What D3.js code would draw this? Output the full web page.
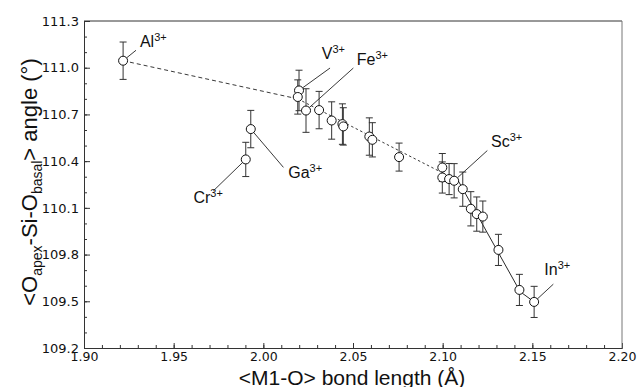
<!DOCTYPE html>
<html>
<head>
<meta charset="utf-8">
<script src="https://cdn.jsdelivr.net/npm/d3@7"></script>
<style>
    body { margin: 0; background: #fff; }
    svg { display: block; }
</style>
</head>
<body>
<svg id="grafica"></svg>
<script>
/**
 * Datos
 */
const bondLength = [1.9218, 2.0199, 2.0192, 2.0238, 2.0311, 2.0381, 2.0441, 2.0446,
    2.0591, 2.0608, 2.0757, 2.0998, 2.0998, 2.1036, 2.1064, 2.1112, 2.1157, 2.1190,
    2.1224, 2.1311, 2.1428, 2.1510, 1.9930, 1.9902];
const angle = [111.045, 110.854, 110.812, 110.725, 110.728, 110.661, 110.638, 110.623,
    110.558, 110.537, 110.426, 110.359, 110.295, 110.285, 110.274, 110.220, 110.094, 110.060,
    110.044, 109.830, 109.573, 109.496, 110.606, 110.411];
const angleErr = [0.12, 0.13, 0.11, 0.14, 0.12, 0.12, 0.13, 0.12,
    0.12, 0.11, 0.09, 0.09, 0.10, 0.10, 0.11, 0.11, 0.11, 0.11,
    0.10, 0.10, 0.10, 0.10, 0.12, 0.11];

// lineas de tendencia
const dashedX = [1.9218, 2.0192];
const dashedY = [111.045, 110.800];
const dottedX = [2.0192, 2.0985];
const dottedY = [110.800, 110.333];
const solidX = [2.1084, 2.1432, 2.1510];
const solidY = [110.280, 109.562, 109.496];

// etiquetas de iones: punto, fin de la linea guia, posicion del texto
const ionNames = ['Al', 'V', 'Fe', 'Ga', 'Cr', 'Sc', 'In'];
const ionPoint = [0, 1, 3, 22, 23, 14, 21];
const leaderX = [1.9290, 2.0372, 2.0502, 2.0112, 1.9721, 2.1249, 2.1617];
const leaderY = [111.112, 110.998, 110.998, 110.360, 110.209, 110.468, 109.610];
const labelX = [1.9312, 2.0326, 2.0521, 2.0139, 1.9610, 2.1270, 2.1567];
const labelY = [111.135, 111.056, 111.019, 110.290, 110.132, 110.494, 109.670];

const xTicks = [1.90, 1.95, 2.00, 2.05, 2.10, 2.15, 2.20];
const yTicks = [109.2, 109.5, 109.8, 110.1, 110.4, 110.7, 111.0, 111.3];

const ancho = 639, alto = 387;
const margen = { left: 84, right: 17, top: 21, bottom: 39 };

const svg = d3.select('#grafica')
    .attr('width', ancho)
    .attr('height', alto)
    .style('background-color', 'white');

const x = d3.scaleLinear().domain([1.90, 2.20]).range([margen.left, ancho - margen.right]);
const y = d3.scaleLinear().domain([109.2, 111.3]).range([alto - margen.bottom, margen.top]);

const colorEje = '#333';
const fuenteTicks = '"DejaVu Sans", sans-serif';
const fuente = '"Liberation Sans", Arial, sans-serif';

/**
 * Ejes: ticks hacia adentro, menores y mayores
 */
const xMinor = d3.range(190, 221).map(d => d / 100);
const yMinor = d3.range(1092, 1114).map(d => d / 10);

svg.append('g')
    .attr('transform', `translate(0,${y(109.2)})`)
    .call(d3.axisBottom(x).tickValues(xMinor).tickSize(-3).tickFormat(''))
    .call(g => g.select('.domain').remove())
    .call(g => g.selectAll('line').attr('stroke', colorEje));

const xAxis = svg.append('g')
    .attr('transform', `translate(0,${y(109.2)})`)
    .call(d3.axisBottom(x).tickValues(xTicks).tickSize(-5).tickPadding(4)
        .tickFormat(d3.format('.2f')));
xAxis.select('.domain').attr('stroke', colorEje);
xAxis.selectAll('line').attr('stroke', colorEje);
xAxis.selectAll('text')
    .attr('font-family', fuenteTicks)
    .attr('font-size', 12.5)
    .attr('fill', '#111');

svg.append('g')
    .attr('transform', `translate(${x(1.90)},0)`)
    .call(d3.axisLeft(y).tickValues(yMinor).tickSize(-3).tickFormat(''))
    .call(g => g.select('.domain').remove())
    .call(g => g.selectAll('line').attr('stroke', colorEje));

const yAxis = svg.append('g')
    .attr('transform', `translate(${x(1.90)},0)`)
    .call(d3.axisLeft(y).tickValues(yTicks).tickSize(-6).tickPadding(5)
        .tickFormat(d3.format('.1f')));
yAxis.select('.domain').attr('stroke', colorEje);
yAxis.selectAll('line').attr('stroke', colorEje);
yAxis.selectAll('text')
    .attr('font-family', fuenteTicks)
    .attr('font-size', 13)
    .attr('fill', '#111');

// marco superior y derecho
svg.append('line')
    .attr('x1', x(1.90)).attr('x2', x(2.20))
    .attr('y1', y(111.3)).attr('y2', y(111.3))
    .attr('stroke', colorEje);
svg.append('line')
    .attr('x1', x(2.20)).attr('x2', x(2.20))
    .attr('y1', y(111.3)).attr('y2', y(109.2))
    .attr('stroke', '#777');

/**
 * Titulos de los ejes
 */
svg.append('text')
    .attr('x', 352)
    .attr('y', 384.5)
    .attr('text-anchor', 'middle')
    .attr('font-family', fuente)
    .attr('font-size', 21)
    .attr('fill', '#111')
    .text('<M1-O> bond length (Å)');

const yTitulo = svg.append('text')
    .attr('transform', 'translate(37,182) rotate(-90)')
    .attr('text-anchor', 'middle')
    .attr('font-family', fuente)
    .attr('font-size', 22)
    .attr('fill', '#111');
yTitulo.append('tspan').text('<O');
yTitulo.append('tspan').attr('font-size', 14).attr('dy', 5).text('apex');
yTitulo.append('tspan').attr('dy', -5).text('-Si-O');
yTitulo.append('tspan').attr('font-size', 14).attr('dy', 5).text('basal');
yTitulo.append('tspan').attr('dy', -5).text('> angle (°)');

/**
 * Lineas de tendencia
 */
const linea = d3.line().x(d => x(d[0])).y(d => y(d[1]));

svg.append('path')
    .attr('d', linea(d3.zip(dashedX, dashedY)))
    .attr('fill', 'none')
    .attr('stroke', '#222')
    .attr('stroke-width', 0.9)
    .attr('stroke-dasharray', '4,3');

svg.append('path')
    .attr('d', linea(d3.zip(dottedX, dottedY)))
    .attr('fill', 'none')
    .attr('stroke', '#222')
    .attr('stroke-width', 0.9)
    .attr('stroke-dasharray', '2.5,2.5');

svg.append('path')
    .attr('d', linea(d3.zip(solidX, solidY)))
    .attr('fill', 'none')
    .attr('stroke', '#111')
    .attr('stroke-width', 0.9);

/**
 * Lineas guia de las etiquetas
 */
svg.append('g')
    .selectAll('line')
    .data(ionNames)
    .join('line')
    .attr('x1', (d, i) => x(bondLength[ionPoint[i]]))
    .attr('y1', (d, i) => y(angle[ionPoint[i]]))
    .attr('x2', (d, i) => x(leaderX[i]))
    .attr('y2', (d, i) => y(leaderY[i]))
    .attr('stroke', '#222')
    .attr('stroke-width', 0.9);

/**
 * Barras de error y puntos
 */
const puntos = d3.range(bondLength.length);

const barras = svg.append('g')
    .attr('stroke', '#333')
    .attr('stroke-width', 1);

barras.selectAll('.vert')
    .data(puntos)
    .join('line')
    .attr('class', 'vert')
    .attr('x1', i => x(bondLength[i]))
    .attr('x2', i => x(bondLength[i]))
    .attr('y1', i => y(angle[i] + angleErr[i]))
    .attr('y2', i => y(angle[i] - angleErr[i]));

barras.selectAll('.capTop')
    .data(puntos)
    .join('line')
    .attr('class', 'capTop')
    .attr('x1', i => x(bondLength[i]) - 3.5)
    .attr('x2', i => x(bondLength[i]) + 3.5)
    .attr('y1', i => y(angle[i] + angleErr[i]))
    .attr('y2', i => y(angle[i] + angleErr[i]));

barras.selectAll('.capBottom')
    .data(puntos)
    .join('line')
    .attr('class', 'capBottom')
    .attr('x1', i => x(bondLength[i]) - 3.5)
    .attr('x2', i => x(bondLength[i]) + 3.5)
    .attr('y1', i => y(angle[i] - angleErr[i]))
    .attr('y2', i => y(angle[i] - angleErr[i]));

svg.append('g')
    .selectAll('circle')
    .data(puntos)
    .join('circle')
    .attr('cx', i => x(bondLength[i]))
    .attr('cy', i => y(angle[i]))
    .attr('r', 4.5)
    .attr('fill', 'white')
    .attr('stroke', '#111')
    .attr('stroke-width', 1);

/**
 * Etiquetas de iones con superindice
 */
const etiquetas = svg.append('g')
    .selectAll('text')
    .data(ionNames)
    .join('text')
    .attr('x', (d, i) => x(labelX[i]))
    .attr('y', (d, i) => y(labelY[i]))
    .attr('font-family', fuente)
    .attr('font-size', 16)
    .attr('fill', '#111');

etiquetas.append('tspan').text(d => d);
etiquetas.append('tspan')
    .attr('font-size', 11)
    .attr('dy', -6)
    .text('3+');
</script>
</body>
</html>
